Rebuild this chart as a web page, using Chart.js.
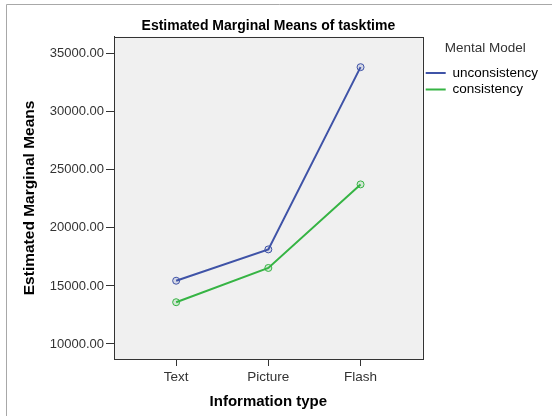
<!DOCTYPE html>
<html>
<head>
<meta charset="utf-8">
<script src="https://cdn.jsdelivr.net/npm/chart.js@4/dist/chart.umd.min.js"></script>
<style>
html,body{margin:0;padding:0;background:#fff;}
#wrap{width:552px;height:416px;position:relative;}
</style>
</head>
<body>
<div id="wrap"><canvas id="c" width="552" height="416"></canvas></div>
<script>
const categories = ["Text", "Picture", "Flash"];
const seriesNames = ["unconsistency", "consistency"];
const unconsistency = [15450, 18150, 33850];
const consistency = [13600, 16550, 23750];
const yTicks = [10000, 15000, 20000, 25000, 30000, 35000];
const colors = ["#3f53a7", "#36b444"];

const FONT = "'Liberation Sans', Arial, sans-serif";

const framePlugin = {
  id: 'frame',
  beforeDraw(chart) {
    const ctx = chart.ctx;
    const a = chart.chartArea;
    ctx.save();
    ctx.fillStyle = '#ffffff';
    ctx.fillRect(0, 0, chart.width, chart.height);
    ctx.strokeStyle = '#a8a8a8';
    ctx.lineWidth = 1;
    ctx.beginPath();
    ctx.moveTo(6.5, chart.height + 2);
    ctx.lineTo(6.5, 4.5);
    ctx.lineTo(chart.width + 2, 4.5);
    ctx.stroke();
    ctx.fillStyle = '#f0f0f0';
    ctx.fillRect(a.left, a.top, a.right - a.left, a.bottom - a.top);
    ctx.restore();
  },
  afterDraw(chart) {
    const ctx = chart.ctx;
    const a = chart.chartArea;
    ctx.save();
    ctx.strokeStyle = '#333333';
    ctx.lineWidth = 1;
    ctx.strokeRect(Math.round(a.left) + 0.5, Math.round(a.top) + 0.5, Math.round(a.right - a.left), Math.round(a.bottom - a.top));
    ctx.restore();
  }
};

const mk = (vals) => vals.map((v, i) => ({x: i, y: v}));

new Chart(document.getElementById('c'), {
  type: 'line',
  data: {
    datasets: [
      {label: seriesNames[0], data: mk(unconsistency), borderColor: colors[0], backgroundColor: colors[0],
       pointBackgroundColor: 'rgba(63,83,167,0.15)', pointBorderColor: colors[0], borderWidth: 2, pointRadius: 3.5, pointBorderWidth: 1, tension: 0},
      {label: seriesNames[1], data: mk(consistency), borderColor: colors[1], backgroundColor: colors[1],
       pointBackgroundColor: 'rgba(54,180,68,0.15)', pointBorderColor: colors[1], borderWidth: 2, pointRadius: 3.5, pointBorderWidth: 1, tension: 0}
    ]
  },
  options: {
    responsive: false,
    animation: false,
    devicePixelRatio: 1,
    layout: {padding: {left: 10, top: 4, right: 4, bottom: 0}},
    plugins: {
      tooltip: {enabled: false},
      title: {
        display: true, text: 'Estimated Marginal Means of tasktime', fullSize: false,
        color: '#000', font: {family: FONT, size: 14, weight: 'bold'}, padding: {top: 14, bottom: 2}
      },
      legend: {
        position: 'right', align: 'start',
        title: {display: true, text: 'Mental Model', color: '#333', font: {family: FONT, size: 13.5}, padding: {top: 38, bottom: 5}},
        labels: {
          color: '#000', font: {family: FONT, size: 13.5}, boxWidth: 20, boxHeight: 2, padding: 3,
          generateLabels: (chart) => Chart.defaults.plugins.legend.labels.generateLabels(chart).map(l => Object.assign(l, {lineWidth: 0}))
        }
      }
    },
    scales: {
      x: {
        type: 'linear', min: -0.674, max: 2.674,
        afterBuildTicks: (s) => { s.ticks = categories.map((c, i) => ({value: i})); },
        afterFit: (s) => { s.height = 57; },
        ticks: {callback: (v) => categories[v], color: '#333', font: {family: FONT, size: 13.5}, padding: 3, autoSkip: false, maxRotation: 0},
        grid: {drawOnChartArea: false, drawTicks: true, tickLength: 7, color: '#333'},
        border: {display: true, color: '#333'},
        title: {display: true, text: 'Information type', color: '#000', font: {family: FONT, size: 15, weight: 'bold'}, padding: {top: 6, bottom: 5}}
      },
      y: {
        type: 'linear', min: 8707, max: 36466,
        afterBuildTicks: (s) => { s.ticks = yTicks.map(v => ({value: v})); },
        afterFit: (s) => { s.width = 104; },
        ticks: {callback: (v) => Number(v).toFixed(2), color: '#333', font: {family: FONT, size: 13}, padding: 2},
        grid: {drawOnChartArea: false, drawTicks: true, tickLength: 8, color: '#333'},
        border: {display: true, color: '#333'},
        title: {display: true, text: 'Estimated Marginal Means', color: '#000', font: {family: FONT, size: 15.5, weight: 'bold'}, padding: {top: 10, bottom: 0}}
      }
    }
  },
  plugins: [framePlugin]
});
</script>
</body>
</html>
